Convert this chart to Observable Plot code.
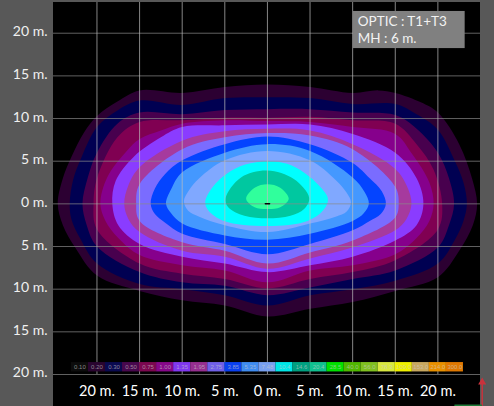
<!DOCTYPE html>
<html><head><meta charset="utf-8">
<script src="https://cdn.jsdelivr.net/npm/d3@7"></script>
<script src="https://cdn.jsdelivr.net/npm/@observablehq/plot@0.6"></script>
<style>html,body{margin:0;padding:0;background:#585858;overflow:hidden}svg{display:block}</style>
</head><body><div id="c"></div><script>
const bandColors=["#2c0032","#000052","#48004e","#800052","#86008c","#8a3cff","#a63a9e","#7a6cff","#0444ff","#4498ff","#80a8ff","#00ffff","#00c8a0","#30ff9c"];
const band1=[[-24.6,0],[-24,3],[-23,5.5],[-21.5,8.4],[-20,10.3],[-17.6,12],[-15,13.3],[-10,13],[-5,13.7],[0,14],[5,13.7],[10,13],[13,13.3],[15,13],[18,11.9],[20,10.7],[22.5,7],[24,3],[24.6,0],[24.1,-2.5],[22.5,-5.5],[20,-8.6],[15,-10.2],[10,-11.5],[5,-12.3],[0,-13.2],[-5,-11.9],[-10,-11.3],[-15,-10.2],[-20,-8.4],[-22.5,-5.2],[-24,-2.5]];
const band2=[[-23.2,0],[-22.8,2.8],[-21.8,5.5],[-20,9],[-17.5,11],[-15,12.1],[-10,11.6],[-5,12.4],[0,12.5],[5,12.4],[10,11.7],[15,11.7],[17.5,10.5],[20,8.7],[22,5],[23,2.5],[23.4,0],[23,-2],[22,-4.2],[20,-7],[15,-9],[10,-10],[5,-10.7],[0,-11.9],[-5,-10.7],[-10,-10],[-15,-9.4],[-20,-7],[-22,-4],[-23,-1.8]];
const band3=[[-21.7,0],[-21.1,3],[-20,6],[-17.6,9.4],[-15,10.7],[-10,10.5],[-5,11],[0,11.1],[5,11.1],[10,10.7],[15,10.4],[17.5,8.8],[20,6],[21.3,3],[21.9,0],[21.3,-2.5],[20,-5.1],[15,-7.8],[10,-8.8],[5,-9.8],[0,-10.7],[-5,-9.6],[-10,-9.2],[-15,-8],[-20,-5],[-21.2,-2.5]];
const band4=[[-20.4,0],[-20,3],[-17.6,7.8],[-15,9.6],[-10,9.8],[-5,10.1],[0,10.1],[5,10.2],[10,9.8],[15,9.4],[17.5,7],[19.5,4],[20.5,0],[20,-3],[15,-6.6],[10,-8],[5,-8.8],[0,-9.9],[-5,-8.8],[-10,-8.2],[-15,-7],[-20,-3]];
const band5=[[-19.6,0],[-18.8,3.1],[-16.5,6.2],[-15,7.6],[-12.5,8.6],[-10,9.4],[-5,9.8],[0,9.7],[5,9.6],[10,9],[15,8.2],[17,5.8],[19,2.5],[19.5,0],[19,-2],[17.5,-4],[15,-5.9],[10,-7.2],[5,-7.8],[0,-9.2],[-5,-7.8],[-10,-7.2],[-15,-6],[-17.5,-4],[-19,-2]];
const band6=[[-18.2,0],[-17.8,2.7],[-15.7,5.5],[-12.5,7.8],[-10,9],[-5,9.2],[0,9.3],[5,9.3],[10,8.2],[15,6],[17.5,3],[18.3,0],[17.5,-2.5],[15,-4.3],[10,-6.2],[5,-7.2],[0,-8],[-5,-7],[-10,-6.2],[-15,-4.7],[-17.5,-2.5]];
const band7=[[-16.8,0],[-16.3,2.2],[-15,4.3],[-10,7.4],[-5,8.5],[0,8.8],[5,8.6],[10,7],[15,4.1],[16.4,2],[16.9,0],[16.3,-1.8],[15,-3.1],[10,-5.1],[5,-6.4],[0,-7.6],[-5,-6.2],[-10,-5.5],[-15,-3.3],[-16.3,-1.8]];
const band8=[[-15.4,0],[-15,2.3],[-10,6.4],[-5,7.8],[0,8.3],[5,8],[10,6.4],[15,2],[15.4,0],[15,-1.6],[10,-4.3],[5,-5.7],[0,-7],[-5,-5.5],[-10,-4.5],[-15,-2]];
const band9=[[-13.7,0],[-13.2,1.8],[-12,3.5],[-10,5.1],[-5,7],[0,7.9],[5,7],[10,4.8],[12,3],[13.4,1.5],[13.9,0],[13.3,-1.2],[12,-2],[10,-3.1],[5,-4.7],[0,-5.9],[-5,-4.7],[-10,-3.5],[-12,-2.2],[-13.2,-1.2]];
const band10=[[-11.9,0],[-11.3,1.7],[-10,3.7],[-5,6],[0,7],[5,6.2],[10,3.1],[11.4,1.4],[11.9,0],[11.3,-1.1],[10,-2],[5,-3.5],[0,-4.2],[-5,-3.7],[-10,-2.3],[-11.3,-1.1]];
const band11=[[-9.8,.3],[-9.2,1.6],[-8,3],[-5,5.1],[0,6.2],[5,5.1],[8,2.8],[9.3,1.3],[9.8,.2],[9.3,-.9],[8,-1.5],[5,-2.3],[0,-3.3],[-5,-2.5],[-8,-1.5],[-9.3,-.8]];
const band12=[[-7.3,.2],[-6.4,2],[-4.8,3.5],[-2.6,4.6],[0,5],[2.3,4.7],[4.4,3.6],[6.1,2.1],[7.1,.6],[6.6,-.7],[4.7,-2],[0,-2.6],[-5.1,-2],[-6.9,-.8]];
const band13=[[-4.9,.7],[-3.1,3.1],[0,3.9],[3.1,2.9],[4.9,.7],[4.3,-.6],[2.7,-1.4],[0,-1.7],[-2.7,-1.4],[-4.6,-.4]];
const band14=[[-2.5,.6],[-1.5,1.9],[0,2.3],[1.5,1.9],[2.5,.6],[1.5,-.4],[0,-.6],[-1.5,-.4]];
const bands=[band1,band2,band3,band4,band5,band6,band7,band8,band9,band10,band11,band12,band13,band14];
const legendLabels=["0.10","0.20","0.30","0.50","0.75","1.00","1.35","1.95","2.75","3.85","5.35","7.48","10.4","14.6","20.4","28.5","40.0","56.0","78.3","109.0","153.0","214.0","300.0"];
const legendColors=["#0c0c0c","#2a0530","#0a0a50","#48084e","#7c0850","#86088a","#8038f0","#962f90","#7060e8","#0a40f0","#3f8cf0","#78a0f0","#00e8e8","#00a080","#10c090","#00e000","#50b800","#80c020","#d8e840","#f0f000","#c8a860","#e89000","#e07800"];
const legendCenters=[-22,-20,-18,-16,-14,-12,-10,-8,-6,-4,-2,0,2,4,6,8,10,12,14,16,18,20,22];
const gridTicks=[-20,-15,-10,-5,0,5,10,15,20];
const fmt=d=>`${Math.abs(d)} m.`;
const xMin=-25.1,xMax=25,yTop=23.6,yBottom=-23.75;
const legendRows=legendLabels.map((label,i)=>({label,color:legendColors[i],c:legendCenters[i]}));
const boxRow=[{x1:10.1,x2:23.2,y1:18.2,y2:22.55}];
const boxText=[{x:10.6,y:21.3,t:"OPTIC : T1+T3"},{x:10.6,y:19.35,t:"MH : 6 m."}];
const marks=[
 Plot.rect([0],{x1:xMin,x2:xMax,y1:yBottom,y2:yTop,fill:"#000"}),
 ...bands.map((b,i)=>Plot.line(b,{x:d=>d[0],y:d=>d[1],fill:bandColors[i],stroke:"none",curve:"catmull-rom-closed"})),
 Plot.ruleY(gridTicks,{x1:xMin,x2:xMax,stroke:"#8a8a8a",strokeWidth:1,strokeOpacity:.7}),
 Plot.ruleX(gridTicks,{y1:-20,y2:yTop,stroke:"#bdbdbd",strokeWidth:1,strokeOpacity:.7}),
 Plot.line([[-0.25,0],[0.25,0]],{x:d=>d[0],y:d=>d[1],stroke:"#000",strokeWidth:1.5}),
 Plot.rect(legendRows,{x1:d=>d.c-1,x2:d=>d.c+1,y1:-18.6,y2:-19.7,fill:"color"}),
 Plot.text(legendRows,{x:"c",y:-19.15,text:"label",fill:"#c8c8c8",fillOpacity:.65,fontSize:6,fontFamily:"Liberation Sans"}),
 Plot.rect(boxRow,{x1:"x1",x2:"x2",y1:"y1",y2:"y2",fill:"#808080"}),
 Plot.text(boxText,{x:"x",y:"y",text:"t",textAnchor:"start",fill:"#f2f2f2",fontSize:13.5,fontFamily:"Lato"}),
 Plot.axisX(gridTicks,{anchor:"bottom",tickSize:0,tickPadding:11,tickFormat:fmt,fill:"#fff",fontSize:14.5,fontFamily:"Lato"}),
 Plot.axisY(gridTicks,{anchor:"left",tickSize:0,tickPadding:6,tickFormat:fmt,fill:"#f0f0f0",fontSize:14,fontFamily:"Lato",dy:-1.5}),
 Plot.line([[25.2,-20.7],[25.2,-23.6]],{x:d=>d[0],y:d=>d[1],stroke:"#c8323c",strokeWidth:1.5}),
 Plot.dot([[25.2,-20.9]],{x:d=>d[0],y:d=>d[1],symbol:"triangle",r:3,fill:"#c8323c"}),
 Plot.line([[22,-23.6],[25.1,-23.6]],{x:d=>d[0],y:d=>d[1],stroke:"#1e7a38",strokeWidth:1.5})
];
const chart=Plot.plot({width:494,height:406,marginLeft:53,marginRight:14,marginTop:2,marginBottom:32,
 x:{domain:[xMin,xMax],axis:null},y:{domain:[-20,yTop],axis:null},
 style:{background:"#585858",overflow:"visible"},marks});
document.getElementById("c").appendChild(chart);
</script></body></html>
